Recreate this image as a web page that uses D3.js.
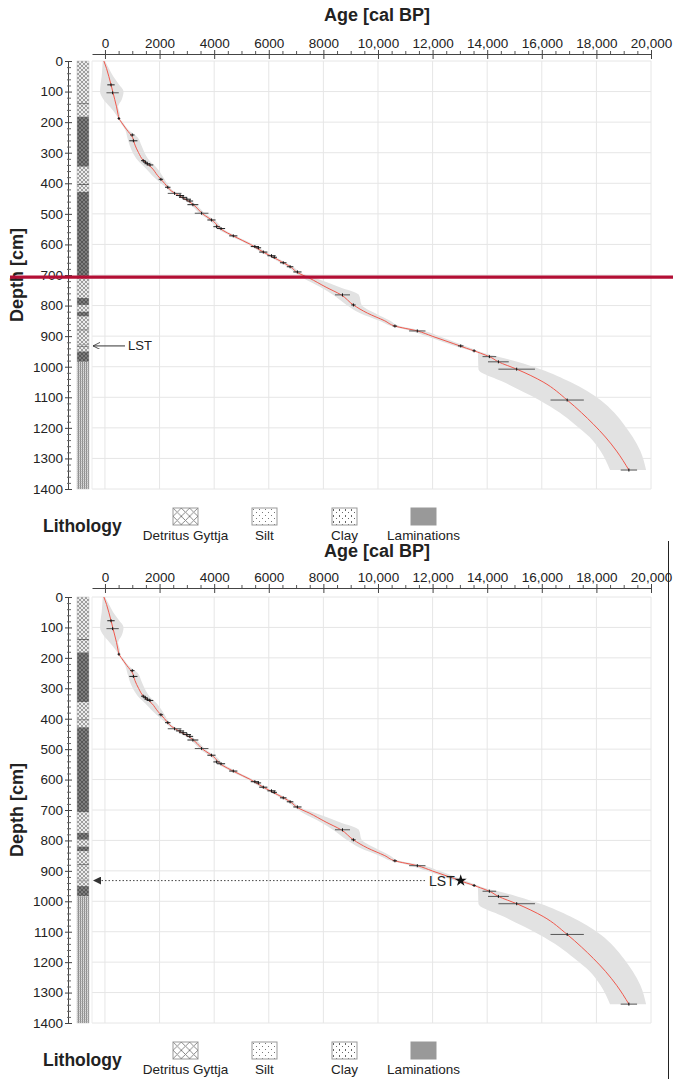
<!DOCTYPE html>
<html>
<head>
<meta charset="utf-8">
<script src="https://d3js.org/d3.v7.min.js"></script>
<style>
    body { margin: 0; background: #fff; }
    text { font-family: "Liberation Sans", Arial, sans-serif; fill: #222; }
</style>
</head>
<body>
<div id="chart"></div>
<script>
// age ticks (cal BP) and depth ticks (cm)
var ageTicks = d3.range(0, 20001, 2000);
var ageMinor = d3.range(0, 20001, 500);
var depthTicks = d3.range(0, 1401, 100);
var depthMinor = d3.range(0, 1401, 20);

// age-depth model: median and 95% range
var modelDepth = [0, 25, 50, 75, 100, 125, 150, 175, 188, 200, 225, 250, 275, 300, 325, 350, 375, 400, 413, 425, 437, 450, 462, 475, 500, 525, 550, 575, 600, 625, 650, 675, 692, 710, 740, 765, 798, 825, 850, 867, 883, 900, 925, 940, 948, 956, 967, 984, 1008, 1050, 1109, 1150, 1188, 1230, 1276, 1338];
var modelAge = [-40, 60, 140, 215, 285, 355, 425, 480, 515, 600, 800, 1010, 1100, 1230, 1400, 1720, 1930, 2180, 2300, 2430, 2650, 2900, 3120, 3300, 3580, 3980, 4250, 4760, 5330, 5800, 6330, 6820, 7050, 7480, 8100, 8650, 9100, 9620, 10250, 10620, 11440, 11980, 12780, 13250, 13520, 13760, 14080, 14410, 15080, 16050, 16930, 17450, 17890, 18330, 18740, 19190];
var modelLo = [-80, -100, -120, -160, -180, -60, 180, 400, 490, 560, 740, 820, 900, 1020, 1200, 1480, 1740, 2050, 2230, 2350, 2550, 2800, 3020, 3200, 3480, 3880, 4150, 4660, 5230, 5700, 6230, 6720, 6950, 7250, 7900, 8350, 8850, 9350, 10050, 10480, 11200, 11780, 12580, 13080, 13400, 13660, 13665, 13670, 13680, 14600, 15900, 16650, 17200, 17750, 18150, 18500];
var modelHi = [0, 150, 300, 500, 680, 620, 480, 550, 540, 650, 860, 1200, 1330, 1450, 1620, 1900, 2100, 2270, 2370, 2510, 2750, 3000, 3220, 3400, 3680, 4080, 4350, 4860, 5430, 5900, 6430, 6920, 7150, 7700, 8600, 9300, 9400, 9900, 10450, 10780, 11700, 12250, 12980, 13420, 13650, 13900, 14400, 15100, 15950, 17050, 18150, 18650, 19000, 19330, 19610, 19820];

// dated samples: age, depth, error (years)
var dateAge = [220, 280, 510, 1000, 1040, 1400, 1480, 1550, 1650, 2050, 2300, 2550, 2750, 2860, 3000, 3110, 3220, 3540, 3900, 4090, 4250, 4700, 5490, 5620, 5800, 6100, 6200, 6530, 6780, 7050, 8700, 9100, 10620, 11440, 13520, 14080, 14410, 15080, 16930, 19190];
var dateDepth = [78, 104, 188, 242, 261, 326, 331, 336, 340, 387, 413, 433, 440, 446, 452, 458, 470, 498, 520, 542, 548, 572, 607, 611, 625, 637, 642, 660, 673, 690, 765, 798, 867, 883, 948, 967, 984, 1008, 1109, 1338];
var dateErr = [135, 225, 50, 80, 150, 80, 80, 100, 120, 80, 100, 250, 150, 150, 150, 120, 200, 250, 150, 120, 150, 150, 150, 100, 150, 150, 100, 120, 120, 150, 275, 80, 80, 300, 60, 250, 380, 670, 610, 300];

// Laacher See Tephra
var lstAge = 13030;
var lstDepth = 932;
var lstErr = 100;

// lithology column units
var lithTop = [0, 138, 142, 182, 346, 402, 406, 428, 708, 775, 798, 820, 836, 878, 882, 926, 928, 932, 935, 950, 984];
var lithBottom = [138, 142, 182, 346, 402, 406, 428, 708, 775, 798, 820, 836, 878, 882, 926, 928, 932, 935, 950, 984, 1400];
var lithType = ["g", "d", "g", "d", "g", "d", "g", "d", "g", "d", "g", "d", "g", "d", "g", "d", "g", "d", "g", "d", "c"];

var legendLabels = ["Detritus Gyttja", "Silt", "Clay", "Laminations"];
var legendPatterns = ["leg-gyttja", "leg-silt", "leg-clay", "leg-lam"];

var redLineDepth = 707;

function makePlot() {
    d3.select("#chart").html("");

    var svgWidth = 673;
    var svgHeight = 1079;

    var svg = d3.select("#chart")
        .append("svg")
        .attr("width", svgWidth)
        .attr("height", svgHeight);

    // STEP 1: patterns
    var defs = svg.append("defs");

    function hatch(id, bg, fg, size, w) {
        var p = defs.append("pattern")
            .attr("id", id)
            .attr("patternUnits", "userSpaceOnUse")
            .attr("width", size)
            .attr("height", size);
        p.append("rect").attr("width", size).attr("height", size).attr("fill", bg);
        p.append("path")
            .attr("d", `M0,0L${size},${size}M${size},0L0,${size}`)
            .attr("stroke", fg)
            .attr("stroke-width", w);
    }
    hatch("pat-g", "#ececec", "#8a8a8a", 4, 0.8);
    hatch("pat-d", "#7e7e7e", "#4c4c4c", 4, 0.8);
    hatch("leg-gyttja", "#fff", "#7a7a7a", 8.3, 0.9);

    var pc = defs.append("pattern")
        .attr("id", "pat-c")
        .attr("patternUnits", "userSpaceOnUse")
        .attr("width", 2).attr("height", 2);
    pc.append("rect").attr("width", 2).attr("height", 2).attr("fill", "#dcdcdc");
    pc.append("rect").attr("width", 1).attr("height", 2).attr("fill", "#8c8c8c");
    pc.append("rect").attr("y", 1).attr("width", 2).attr("height", 0.5).attr("fill", "#a8a8a8");

    var ps = defs.append("pattern")
        .attr("id", "leg-silt")
        .attr("patternUnits", "userSpaceOnUse")
        .attr("width", 6).attr("height", 6);
    ps.append("rect").attr("width", 6).attr("height", 6).attr("fill", "#fff");
    ps.append("rect").attr("x", 1).attr("y", 1).attr("width", 1).attr("height", 1).attr("fill", "#777");
    ps.append("rect").attr("x", 4).attr("y", 4).attr("width", 1).attr("height", 1).attr("fill", "#777");

    var pcl = defs.append("pattern")
        .attr("id", "leg-clay")
        .attr("patternUnits", "userSpaceOnUse")
        .attr("width", 6).attr("height", 6);
    pcl.append("rect").attr("width", 6).attr("height", 6).attr("fill", "#fff");
    pcl.append("rect").attr("x", 1).attr("y", 1).attr("width", 1).attr("height", 2).attr("fill", "#666");
    pcl.append("rect").attr("x", 4).attr("y", 4).attr("width", 1).attr("height", 1).attr("fill", "#666");

    var pl = defs.append("pattern")
        .attr("id", "leg-lam")
        .attr("patternUnits", "userSpaceOnUse")
        .attr("width", 4).attr("height", 4);
    pl.append("rect").attr("width", 4).attr("height", 4).attr("fill", "#999");

    // arrow markers (drawn pointing +x, rotated along the line)
    defs.append("marker")
        .attr("id", "arrowOpen")
        .attr("viewBox", "0 0 10 10")
        .attr("refX", 10).attr("refY", 5)
        .attr("markerWidth", 7).attr("markerHeight", 7)
        .attr("markerUnits", "userSpaceOnUse")
        .attr("orient", "auto")
        .append("path")
        .attr("d", "M0,0L10,5L0,10")
        .attr("fill", "none")
        .attr("stroke", "#333")
        .attr("stroke-width", 1.2);

    defs.append("marker")
        .attr("id", "arrowFill")
        .attr("viewBox", "0 0 10 10")
        .attr("refX", 10).attr("refY", 5)
        .attr("markerWidth", 8).attr("markerHeight", 8)
        .attr("markerUnits", "userSpaceOnUse")
        .attr("orient", "auto")
        .append("path")
        .attr("d", "M0,0L10,5L0,10Z")
        .attr("fill", "#333");

    // STEP 2: prepare data
    var model = modelDepth.map(function(d, i) {
        return { depth: d, age: modelAge[i], lo: modelLo[i], hi: modelHi[i] };
    });
    var dates = dateAge.map(function(a, i) {
        return { age: a, depth: dateDepth[i], err: dateErr[i] };
    });
    var lith = lithTop.map(function(t, i) {
        return { top: t, bottom: lithBottom[i], type: lithType[i] };
    });

    var xScale = d3.scaleLinear()
        .domain([-475, 20000])
        .range([92, 651]);

    var panels = [
        { top: 61, bottom: 489, axisY: 54, titleY: 21, legendY: 508, star: false },
        { top: 597, bottom: 1023, axisY: 588, titleY: 557, legendY: 1042, star: true }
    ];

    panels.forEach(function(p) {
        var yScale = d3.scaleLinear()
            .domain([0, 1400])
            .range([p.top, p.bottom]);

        var g = svg.append("g");

        // grid
        g.append("g")
            .selectAll("line")
            .data(depthTicks)
            .enter()
            .append("line")
            .attr("x1", xScale.range()[0])
            .attr("x2", xScale.range()[1])
            .attr("y1", d => yScale(d))
            .attr("y2", d => yScale(d))
            .attr("stroke", "#e6e6e6");

        g.append("g")
            .selectAll("line")
            .data(ageTicks)
            .enter()
            .append("line")
            .attr("x1", d => xScale(d))
            .attr("x2", d => xScale(d))
            .attr("y1", yScale(0))
            .attr("y2", yScale(1400))
            .attr("stroke", "#e6e6e6");

        g.append("line")
            .attr("x1", xScale.range()[0])
            .attr("x2", xScale.range()[0])
            .attr("y1", yScale(0))
            .attr("y2", yScale(1400))
            .attr("stroke", "#ececec");

        // envelope + median
        var area = d3.area()
            .y(d => yScale(d.depth))
            .x0(d => xScale(d.lo))
            .x1(d => xScale(d.hi))
            .curve(d3.curveMonotoneY);

        g.append("path")
            .datum(model)
            .attr("d", area)
            .attr("fill", "#e2e2e2");

        var line = d3.line()
            .y(d => yScale(d.depth))
            .x(d => xScale(d.age))
            .curve(d3.curveMonotoneY);

        g.append("path")
            .datum(model)
            .attr("d", line)
            .attr("fill", "none")
            .attr("stroke", "#f0584c")
            .attr("stroke-width", 1);

        // date error bars
        var barData = p.star ? dates : dates.concat([{ age: lstAge, depth: lstDepth, err: lstErr }]);
        var bars = g.append("g")
            .selectAll("g")
            .data(barData)
            .enter()
            .append("g");

        bars.append("line")
            .attr("x1", d => xScale(d.age - d.err))
            .attr("x2", d => xScale(d.age + d.err))
            .attr("y1", d => yScale(d.depth))
            .attr("y2", d => yScale(d.depth))
            .attr("stroke", d => d.err > 200 ? "#555" : "#222")
            .attr("stroke-width", 1);

        bars.append("line")
            .attr("x1", d => xScale(d.age))
            .attr("x2", d => xScale(d.age))
            .attr("y1", d => yScale(d.depth) - 1.5)
            .attr("y2", d => yScale(d.depth) + 1.5)
            .attr("stroke", "#111")
            .attr("stroke-width", 1);

        // axes
        var topAxis = d3.axisTop(xScale)
            .tickValues(ageTicks)
            .tickSize(4)
            .tickSizeOuter(0)
            .tickFormat(d => d >= 10000 ? d3.format(",")(d) : d);

        var ax = g.append("g")
            .attr("transform", `translate(0, ${p.axisY})`)
            .call(topAxis);
        ax.selectAll(".tick line").attr("y1", 5).attr("stroke", "#444");
        ax.select(".domain").attr("stroke", "#444");
        ax.selectAll(".tick text")
            .attr("y", -6)
            .attr("dy", 0)
            .attr("font-size", 13.5)
            .attr("font-family", "Liberation Sans, Arial, sans-serif")
            .attr("fill", "#333");

        var axm = g.append("g")
            .attr("transform", `translate(0, ${p.axisY})`)
            .call(d3.axisTop(xScale).tickValues(ageMinor.filter(d => d % 2000 !== 0)).tickSize(3).tickFormat(""));
        axm.select(".domain").remove();
        axm.selectAll(".tick line").attr("stroke", "#555");

        var leftAxis = d3.axisLeft(yScale)
            .tickValues(depthTicks)
            .tickSize(2)
            .tickSizeOuter(0)
            .tickFormat(d3.format("d"));

        var ay = g.append("g")
            .attr("transform", "translate(68, 0)")
            .call(leftAxis);
        ay.selectAll(".tick line").attr("x2", -3).attr("x1", 4).attr("stroke", "#444");
        ay.select(".domain").attr("stroke", "#444");
        ay.selectAll(".tick text")
            .attr("x", -5)
            .attr("font-size", 13.5)
            .attr("font-family", "Liberation Sans, Arial, sans-serif")
            .attr("fill", "#333");

        var aym = g.append("g")
            .attr("transform", "translate(68, 0)")
            .call(d3.axisLeft(yScale).tickValues(depthMinor.filter(d => d % 100 !== 0)).tickSize(-3).tickFormat(""));
        aym.select(".domain").remove();
        aym.selectAll(".tick line").attr("x1", -1).attr("stroke", "#666");

        // titles
        g.append("text")
            .attr("x", 377)
            .attr("y", p.titleY)
            .attr("text-anchor", "middle")
            .attr("font-size", 18)
            .attr("font-weight", "bold")
            .text("Age [cal BP]");

        g.append("text")
            .attr("transform", `translate(23, ${(p.top + p.bottom) / 2}) rotate(-90)`)
            .attr("text-anchor", "middle")
            .attr("font-size", 18)
            .attr("font-weight", "bold")
            .text("Depth [cm]");

        // lithology column
        g.append("g")
            .selectAll("rect")
            .data(lith)
            .enter()
            .append("rect")
            .attr("x", 77)
            .attr("width", 12)
            .attr("y", d => yScale(d.top))
            .attr("height", d => yScale(d.bottom) - yScale(d.top))
            .attr("fill", d => "url(#pat-" + d.type + ")");

        g.append("rect")
            .attr("x", 77)
            .attr("width", 12)
            .attr("y", yScale(0))
            .attr("height", yScale(1400) - yScale(0))
            .attr("fill", "none")
            .attr("stroke", "#bbb")
            .attr("stroke-width", 0.5);

        // LST annotation
        var ly = yScale(lstDepth);
        if (!p.star) {
            g.append("line")
                .attr("x1", 125)
                .attr("x2", 93)
                .attr("y1", ly)
                .attr("y2", ly)
                .attr("stroke", "#333")
                .attr("stroke-width", 1)
                .attr("marker-end", "url(#arrowOpen)");
            g.append("text")
                .attr("x", 128)
                .attr("y", ly)
                .attr("dy", "0.35em")
                .attr("font-size", 13)
                .text("LST");
        } else {
            var sx = xScale(lstAge);
            var lt = g.append("text")
                .attr("x", sx - 6)
                .attr("y", ly)
                .attr("dy", "0.36em")
                .attr("text-anchor", "end")
                .attr("font-size", 14)
                .text("LST");
            var tw = lt.node().getComputedTextLength();
            g.append("line")
                .attr("x1", sx - 10 - tw)
                .attr("x2", 93)
                .attr("y1", ly)
                .attr("y2", ly)
                .attr("stroke", "#444")
                .attr("stroke-width", 1)
                .attr("stroke-dasharray", "1.5,2")
                .attr("marker-end", "url(#arrowFill)");
            g.append("path")
                .attr("d", d3.symbol().type(d3.symbolStar).size(45))
                .attr("transform", `translate(${sx}, ${ly})`)
                .attr("fill", "#111");
        }

        // legend
        g.append("text")
            .attr("x", 43)
            .attr("y", p.legendY + 24)
            .attr("font-size", 17.5)
            .attr("font-weight", "bold")
            .text("Lithology");

        var legX = [173, 252, 332, 411];
        var leg = g.append("g")
            .selectAll("g")
            .data(legendLabels)
            .enter()
            .append("g")
            .attr("transform", (d, i) => `translate(${legX[i]}, ${p.legendY})`);

        leg.append("rect")
            .attr("width", 25)
            .attr("height", 17)
            .attr("fill", (d, i) => "url(#" + legendPatterns[i] + ")")
            .attr("stroke", "#999")
            .attr("stroke-width", 1);

        leg.append("text")
            .attr("x", 12.5)
            .attr("y", 32)
            .attr("text-anchor", "middle")
            .attr("font-size", 13.5)
            .text(d => d);
    });

    // red marker line across upper panel
    var yTop = d3.scaleLinear().domain([0, 1400]).range([panels[0].top, panels[0].bottom]);
    svg.append("line")
        .attr("x1", 10)
        .attr("x2", svgWidth)
        .attr("y1", yTop(redLineDepth))
        .attr("y2", yTop(redLineDepth))
        .attr("stroke", "#b30f35")
        .attr("stroke-width", 3.3);

    // frame edge on the lower half
    svg.append("line")
        .attr("x1", 668.5)
        .attr("x2", 668.5)
        .attr("y1", 541)
        .attr("y2", svgHeight)
        .attr("stroke", "#222")
        .attr("stroke-width", 1);
}

makePlot();
</script>
</body>
</html>
